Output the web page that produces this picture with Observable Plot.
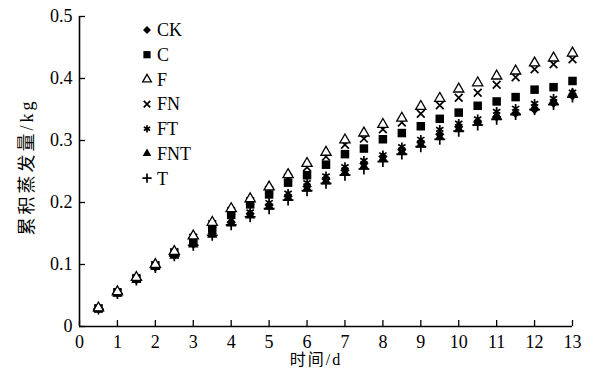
<!DOCTYPE html>
<html><head><meta charset="utf-8">
<script src="https://cdn.jsdelivr.net/npm/d3@7"></script>
<script src="https://cdn.jsdelivr.net/npm/@observablehq/plot@0.6"></script>
<style>
body{margin:0;background:#fff;}
#wrap{position:relative;width:603px;height:374px;}
</style></head><body><div id="wrap"></div>
<script>
const days = [0.5,1,1.5,2,2.5,3,3.5,4,4.5,5,5.5,6,6.5,7,7.5,8,8.5,9,9.5,10,10.5,11,11.5,12,12.5,13];
const CK  = [0.029,0.054,0.076,0.096,0.115,0.133,0.150,0.168,0.182,0.196,0.210,0.226,0.238,0.252,0.263,0.274,0.285,0.297,0.310,0.322,0.330,0.338,0.344,0.350,0.360,0.372];
const C   = [0.029,0.055,0.077,0.098,0.118,0.137,0.158,0.180,0.197,0.213,0.232,0.244,0.261,0.278,0.287,0.302,0.312,0.323,0.335,0.345,0.356,0.363,0.370,0.382,0.386,0.396];
const F   = [0.030,0.056,0.079,0.100,0.121,0.146,0.168,0.190,0.206,0.225,0.245,0.263,0.281,0.301,0.312,0.326,0.336,0.355,0.368,0.383,0.393,0.404,0.412,0.425,0.433,0.441];
const FN  = [0.029,0.055,0.078,0.099,0.120,0.143,0.165,0.186,0.202,0.220,0.240,0.257,0.274,0.293,0.303,0.318,0.329,0.343,0.357,0.369,0.377,0.390,0.402,0.415,0.423,0.431];
const FT  = [0.029,0.054,0.076,0.097,0.116,0.134,0.152,0.172,0.185,0.200,0.215,0.232,0.243,0.258,0.268,0.277,0.290,0.302,0.318,0.328,0.335,0.347,0.352,0.360,0.368,0.378];
const FNT = [0.028,0.053,0.075,0.096,0.114,0.132,0.148,0.166,0.179,0.193,0.207,0.222,0.234,0.248,0.258,0.270,0.281,0.293,0.305,0.318,0.328,0.340,0.345,0.353,0.363,0.376];
const T   = [0.028,0.053,0.075,0.095,0.114,0.131,0.147,0.164,0.177,0.190,0.204,0.219,0.231,0.244,0.254,0.266,0.278,0.290,0.302,0.315,0.325,0.334,0.342,0.350,0.358,0.370];

const seriesNames = ["CK","C","F","FN","FT","FNT","T"];
const seriesValues = [CK, C, F, FN, FT, FNT, T];
const seriesSymbols = ["diamond2","square","triangle","times","asterisk","triangle","plus"];
const seriesFilled = [true,true,false,false,false,true,false];
const xTicks = [0,1,2,3,4,5,6,7,8,9,10,11,12,13];
const yTicks = [0,0.1,0.2,0.3,0.4,0.5];
const xLabel = "时间/d";
const yLabel = "累积蒸发量/kg";

const serif = "'Liberation Serif','Times New Roman','Noto Sans CJK SC',serif";
const d3Sym = {diamond2:d3.symbolDiamond2, square:d3.symbolSquare, triangle:d3.symbolTriangle, times:d3.symbolTimes, asterisk:d3.symbolAsterisk, plus:d3.symbolPlus};
const radius = {diamond2:4.2, square:4.8, triangle:3.8, times:3.6, asterisk:4.0, plus:3.6};

function style(i){
  const s = seriesSymbols[i];
  if (seriesFilled[i]) return {fill:"black", stroke:"none"};
  if (s === "triangle") return {fill:"white", stroke:"black", strokeWidth:1.3};
  return {fill:"none", stroke:"black", strokeWidth:1.7};
}

const dotMarks = seriesNames.map((name, i) => {
  const rows = days.map((d, j) => ({day:d, value:seriesValues[i][j], series:name}));
  return Plot.dot(rows, {x:"day", y:"value", symbol:()=>seriesSymbols[i], r:radius[seriesSymbols[i]], ...style(i)});
});
const order = [6,5,4,0,1,3,2];

const chart = Plot.plot({
  width:603, height:374,
  marginLeft:79, marginRight:31, marginTop:16, marginBottom:48,
  style:{fontFamily:serif, fontSize:"18px", background:"white", color:"black"},
  symbol:{type:"identity"},
  x:{domain:[0,13], axis:null},
  y:{domain:[0,0.5], axis:null},
  marks:[
    Plot.axisX(xTicks, {tickSize:6, dy:-6, fill:"none", strokeWidth:1.3}),
    Plot.axisX(xTicks, {tickSize:0, tickPadding:9, tickFormat:d=>String(d), fontSize:18, label:null, fill:"black"}),
    Plot.axisY(yTicks, {tickSize:6, dx:6, fill:"none", strokeWidth:1.3}),
    Plot.axisY(yTicks, {tickSize:0, tickPadding:7, tickFormat:d=>d===0?"0":d.toFixed(1), fontSize:18, label:null, fill:"black"}),
    Plot.ruleX([0], {strokeWidth:1.6}),
    Plot.ruleY([0], {strokeWidth:1.6}),
    ...order.map(i => dotMarks[i])
  ]
});
document.getElementById("wrap").appendChild(chart);

const svg = d3.select(chart);
// axis titles
svg.append("text").attr("x", 316).attr("y", 359).attr("dy", "0.35em")
  .attr("text-anchor", "middle").attr("font-family", serif).attr("font-size", 16)
  .attr("letter-spacing", 2).attr("fill", "black").text(xLabel);
svg.append("text").attr("transform", "translate(27,167) rotate(-90)").attr("dy", "0.35em")
  .attr("text-anchor", "middle").attr("font-family", serif).attr("font-size", 18)
  .attr("letter-spacing", 3).attr("fill", "black").text(yLabel);

// legend
const lg = svg.append("g").attr("font-family", serif).attr("font-size", 18).attr("text-anchor", "start");
seriesNames.forEach((name, i) => {
  const s = seriesSymbols[i];
  const st = style(i);
  const g = lg.append("g").attr("transform", `translate(147,${30 + i*24.7})`);
  g.append("path")
    .attr("d", d3.symbol(d3Sym[s], Math.PI * Math.pow(radius[s]*0.85, 2))())
    .attr("fill", st.fill).attr("stroke", st.stroke).attr("stroke-width", st.strokeWidth || 0);
  g.append("text").attr("x", 10).attr("dy", "0.35em").attr("fill", "black").text(name);
});
</script></body></html>
